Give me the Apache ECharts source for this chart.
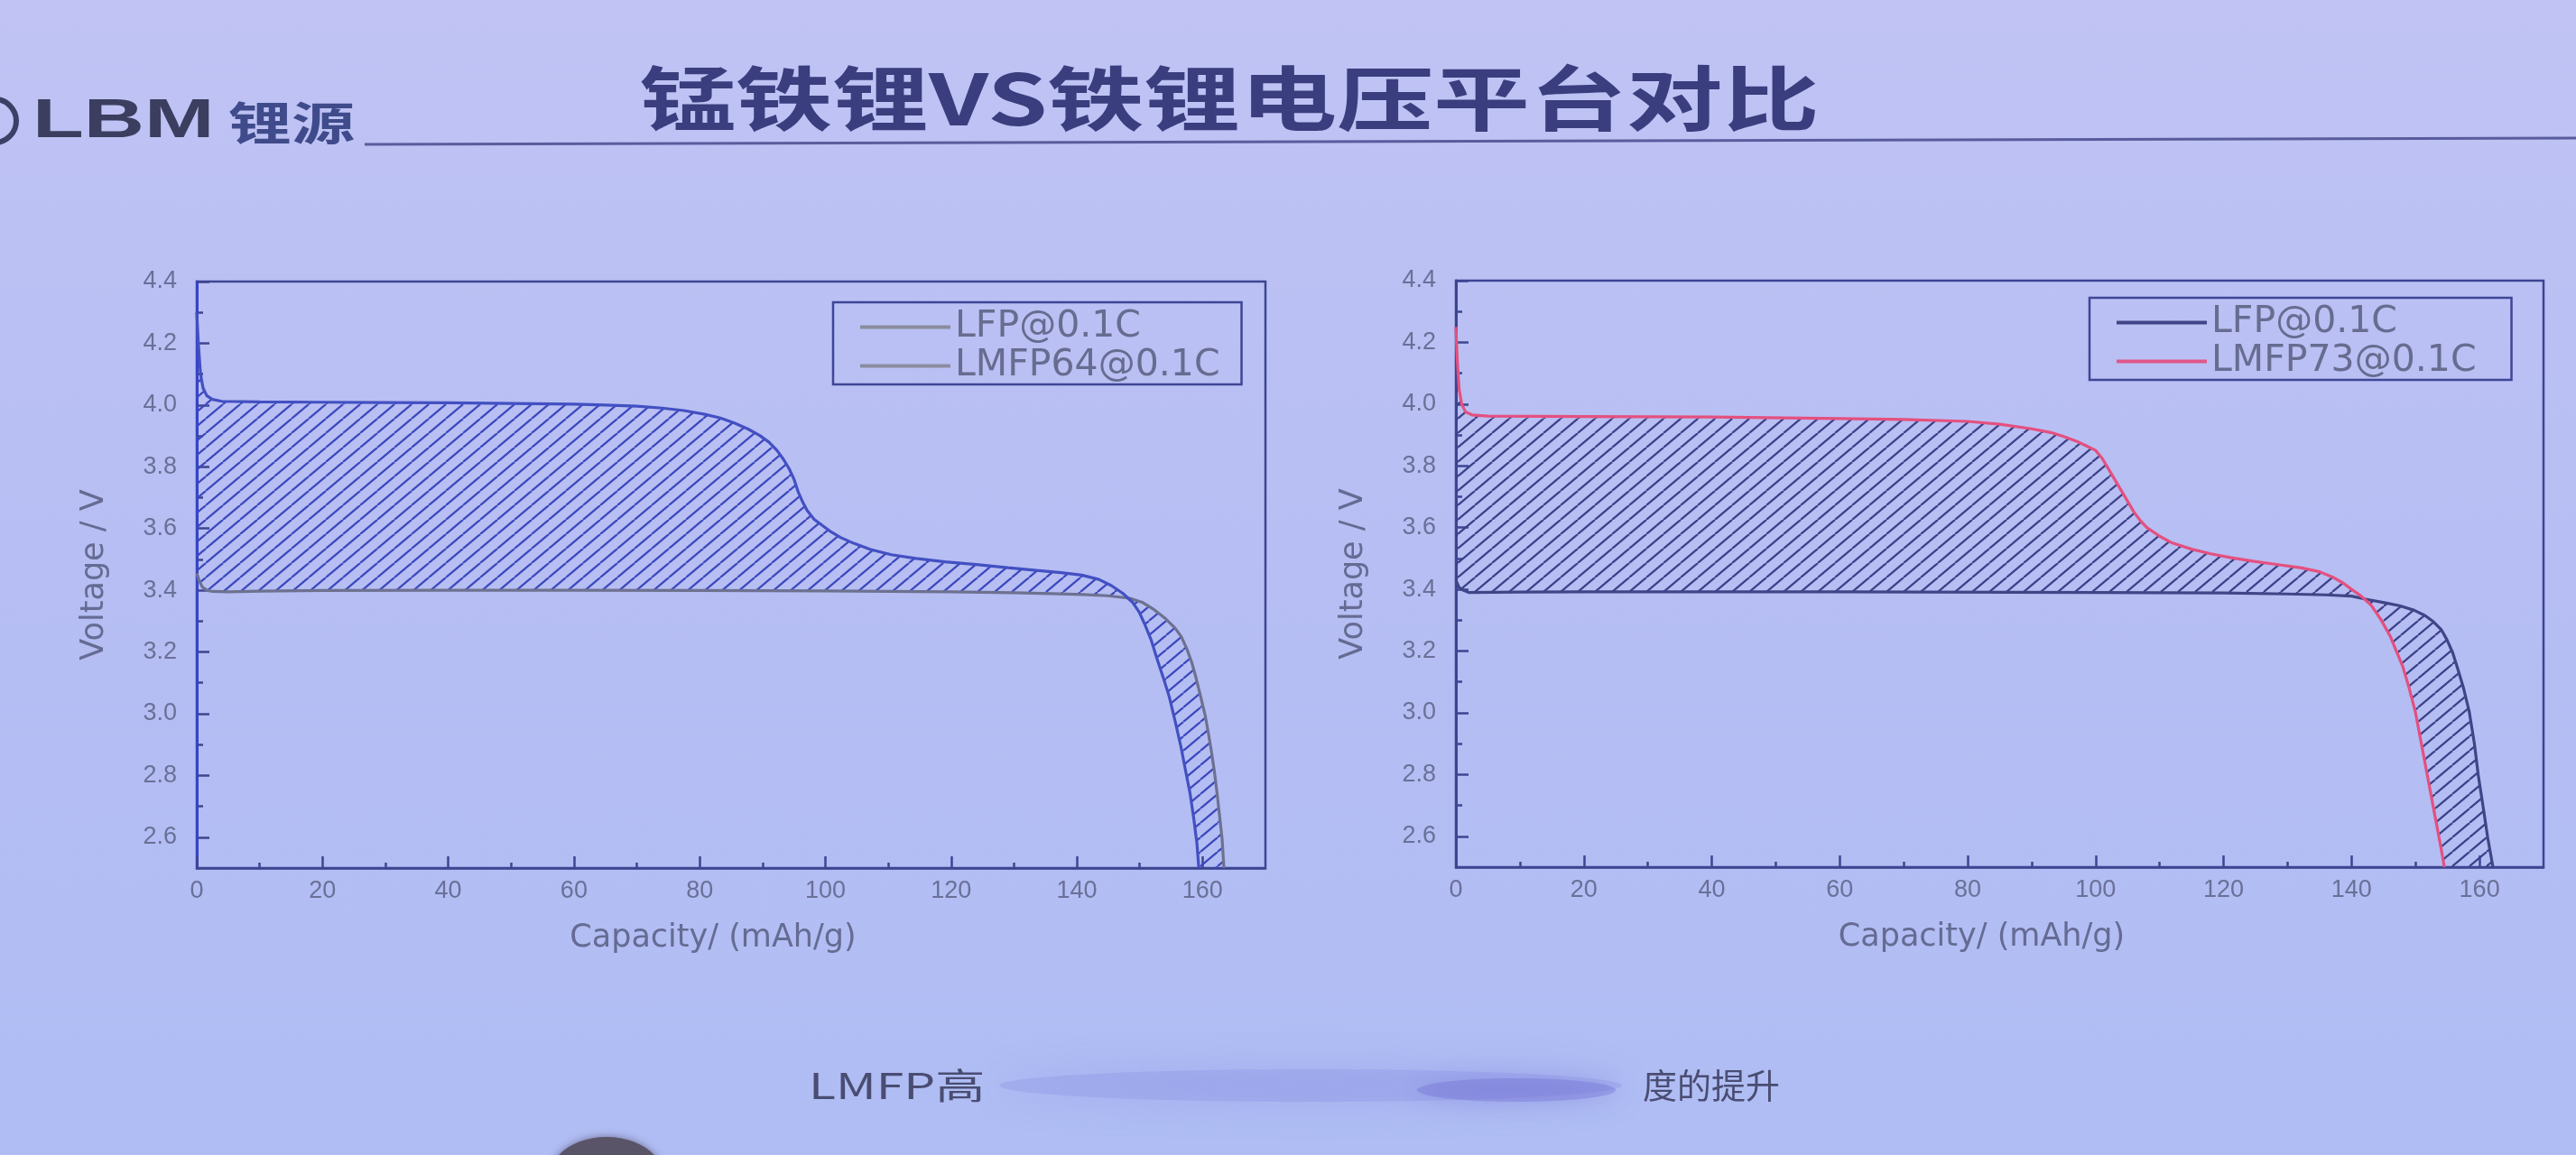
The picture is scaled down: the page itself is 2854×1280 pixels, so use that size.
<!DOCTYPE html>
<html>
<head>
<meta charset="utf-8">
<script src="https://cdn.jsdelivr.net/npm/echarts@6/dist/echarts.min.js"></script>
<style>
html,body{margin:0;padding:0;background:#b6bef3;}
#main{width:2854px;height:1280px;}
</style>
</head>
<body>
<div id="main"></div>
<script>
// ---------- data ----------
const titleText = '锰铁锂VS铁锂电压平台对比';
const xName = 'Capacity/ (mAh/g)';
const yName = 'Voltage / V';
const xMajorTicks = [0, 20, 40, 60, 80, 100, 120, 140, 160];
const xMinorTicks = [10, 30, 50, 70, 90, 110, 130, 150];
const yMajorTicks = [2.6, 2.8, 3.0, 3.2, 3.4, 3.6, 3.8, 4.0, 4.2, 4.4];
const yMinorTicks = [2.7, 2.9, 3.1, 3.3, 3.5, 3.7, 3.9, 4.1, 4.3];

const lfpLeft = [[0,3.455],[0.4,3.43],[0.9,3.41],[1.6,3.4],[2.5,3.396],[5,3.395],[10,3.397],[20,3.399],[40,3.4],[60,3.4],[80,3.399],[100,3.398],[120,3.395],[130,3.392],[136,3.389],[141,3.386],[145,3.382],[148.4,3.374],[150.5,3.36],[152.3,3.337],[154,3.31],[155.6,3.278],[156.6,3.25],[157.5,3.21],[158.3,3.165],[159,3.113],[159.7,3.055],[160.4,2.996],[160.9,2.94],[161.4,2.879],[161.9,2.81],[162.3,2.743],[162.7,2.67],[163.1,2.596],[163.4,2.5]];
const lmfp64 = [[0,4.30],[0.25,4.2],[0.6,4.1],[1.0,4.055],[1.6,4.03],[2.5,4.018],[4,4.012],[10,4.01],[20,4.009],[30,4.008],[40,4.007],[50,4.005],[60,4.003],[65,4.0],[70,3.996],[74,3.99],[77.5,3.982],[80.8,3.97],[83.3,3.958],[85.6,3.941],[87.7,3.922],[89.5,3.902],[91,3.88],[92.3,3.853],[93.3,3.825],[94.2,3.795],[95,3.76],[95.7,3.717],[96.4,3.685],[97.1,3.658],[98.2,3.63],[99.5,3.61],[100.9,3.589],[102.4,3.571],[104.5,3.552],[107.2,3.532],[110.5,3.515],[114.4,3.503],[119,3.492],[124,3.483],[129,3.473],[133.6,3.464],[137.5,3.457],[140.8,3.449],[143.5,3.435],[145.5,3.415],[147.3,3.39],[148.9,3.36],[149.9,3.33],[150.8,3.29],[151.8,3.24],[152.7,3.181],[153.7,3.12],[154.7,3.055],[155.7,2.97],[156.6,2.889],[157.3,2.815],[158,2.743],[158.6,2.66],[159.1,2.58],[159.4,2.5]];

const lfpRight = [[0,3.43],[0.4,3.41],[0.8,3.4],[2,3.39],[10,3.391],[20,3.392],[60,3.392],[100,3.39],[120,3.388],[130,3.385],[136,3.382],[140,3.378],[142,3.369],[145.1,3.357],[147.5,3.347],[149.8,3.332],[151.5,3.315],[152.8,3.295],[154,3.27],[154.9,3.237],[155.8,3.195],[156.5,3.149],[157.5,3.08],[158.4,3.003],[159.2,2.9],[159.8,2.798],[160.6,2.69],[161.3,2.593],[162.1,2.5]];
const lmfp73 = [[0,4.25],[0.2,4.15],[0.5,4.05],[0.9,4.0],[1.5,3.975],[2.5,3.965],[5,3.961],[20,3.96],[40,3.958],[60,3.953],[70,3.95],[80,3.944],[85,3.935],[90,3.92],[93,3.908],[95,3.895],[97,3.88],[98.5,3.865],[100,3.85],[101,3.825],[102,3.79],[103,3.755],[104,3.72],[105,3.685],[106,3.65],[107,3.622],[108,3.6],[110,3.572],[112,3.55],[115,3.53],[118,3.515],[121,3.503],[125,3.49],[128.5,3.48],[132,3.47],[135,3.457],[137,3.44],[138.7,3.42],[140,3.4],[141.5,3.378],[143,3.35],[144.5,3.305],[146,3.25],[147,3.2],[148,3.15],[149,3.08],[150,3.0],[151,2.89],[152,2.78],[153,2.67],[154,2.56],[154.5,2.5]];

const legendLeft = ['LFP@0.1C', 'LMFP64@0.1C'];
const legendRight = ['LFP@0.1C', 'LMFP73@0.1C'];

// ---------- styles ----------
const labelColor = '#6a7097';
const nameColor = '#656b92';
const frameColor = '#3e4592';

function makeHatch(color, w, h, lw) {
  const c = document.createElement('canvas');
  c.width = w; c.height = h;
  const g = c.getContext('2d');
  g.strokeStyle = color; g.lineWidth = lw;
  for (const dx of [-w, 0, w]) {
    g.beginPath(); g.moveTo(dx, h); g.lineTo(dx + w, 0); g.stroke();
  }
  return c;
}
const hatchLeft = { image: makeHatch('#3c47bd', 19, 16, 2.2), repeat: 'repeat' };
const hatchRight = { image: makeHatch('#3b4088', 19, 16, 2.2), repeat: 'repeat' };

function xAxes(grid, lineColor) {
  return [{
    gridIndex: grid, type: 'value', min: 0, max: 170, position: 'bottom',
    axisLine: { lineStyle: { color: lineColor, width: 2.5 } },
    axisTick: { inside: true, length: 13, customValues: xMajorTicks, lineStyle: { color: frameColor, width: 2.5 } },
    axisLabel: { customValues: xMajorTicks, margin: 12, fontSize: 27, color: labelColor, fontFamily: 'Liberation Sans' },
    splitLine: { show: false },
    name: xName, nameLocation: 'middle', nameGap: 60,
    nameTextStyle: { fontSize: 35, color: nameColor, fontFamily: 'DejaVu Sans', padding: [0, 40, 0, 0] }
  }, {
    gridIndex: grid, type: 'value', min: 0, max: 170, position: 'bottom',
    axisLine: { show: false },
    axisTick: { inside: true, length: 6, customValues: xMinorTicks, lineStyle: { color: frameColor, width: 2.5 } },
    axisLabel: { show: false }, splitLine: { show: false }
  }];
}
function yAxes(grid, lineColor) {
  return [{
    gridIndex: grid, type: 'value', min: 2.5, max: 4.4, position: 'left',
    axisLine: { lineStyle: { color: lineColor, width: 3 } },
    axisTick: { inside: true, length: 14, customValues: yMajorTicks, lineStyle: { color: frameColor, width: 2.5 } },
    axisLabel: { customValues: yMajorTicks, margin: 22, fontSize: 27, color: labelColor, fontFamily: 'Liberation Sans',
      formatter: v => v.toFixed(1) },
    splitLine: { show: false },
    name: yName, nameLocation: 'middle', nameGap: 96, nameRotate: 90,
    nameTextStyle: { fontSize: 35, color: nameColor, fontFamily: 'DejaVu Sans' }
  }, {
    gridIndex: grid, type: 'value', min: 2.5, max: 4.4, position: 'left',
    axisLine: { show: false },
    axisTick: { inside: true, length: 7, customValues: yMinorTicks, lineStyle: { color: frameColor, width: 2.5 } },
    axisLabel: { show: false }, splitLine: { show: false }
  }];
}

function hatchSeries(xi, yi, upper, lower, pattern) {
  return {
    type: 'custom', xAxisIndex: xi, yAxisIndex: yi, silent: true, z: 1,
    data: [[0, 3]],
    renderItem: function (params, api) {
      const pts = upper.map(p => api.coord(p)).concat(lower.slice().reverse().map(p => api.coord(p)));
      return { type: 'polygon', shape: { points: pts }, style: { fill: pattern, stroke: null } };
    }
  };
}
function lineSeries(name, xi, yi, data, color, z) {
  return {
    type: 'line', name: name, xAxisIndex: xi, yAxisIndex: yi, data: data,
    symbol: 'none', smooth: false, z: z,
    lineStyle: { color: color, width: 3.2 }, itemStyle: { color: color }
  };
}
function legend(left, top, names, colors, padRight) {
  return {
    left: left, top: top, orient: 'vertical',
    data: names.map((n, i) => ({ name: n, icon: 'rect', itemStyle: { color: colors[i] } })),
    itemWidth: 100, itemHeight: 4, itemGap: 2,
    padding: [7, padRight, 0, 30],
    borderColor: '#3f4696', borderWidth: 2.5,
    textStyle: { fontSize: 41, lineHeight: 38, color: '#676c90', fontFamily: 'DejaVu Sans' },
    selectedMode: false
  };
}

const chart = echarts.init(document.getElementById('main'), null, { renderer: 'canvas' });
chart.setOption({
  animation: false,
  backgroundColor: { type: 'linear', x: 0, y: 0, x2: 0, y2: 1,
    colorStops: [{ offset: 0, color: '#c0c3f4' }, { offset: 0.5, color: '#b6bef3' }, { offset: 1, color: '#afbdf4' }] },
  grid: [
    { left: 218, top: 312, width: 1184, height: 650, show: true, borderColor: frameColor, borderWidth: 2.5, backgroundColor: 'transparent' },
    { left: 1613, top: 311, width: 1205, height: 650, show: true, borderColor: frameColor, borderWidth: 2.5, backgroundColor: 'transparent' }
  ],
  xAxis: xAxes(0, '#3d4590').concat(xAxes(1, '#3d4590')),
  yAxis: yAxes(0, '#3644c8').concat(yAxes(1, '#3d4590')),
  legend: [
    legend(923, 335, legendLeft, ['#8a8d9e', '#8a8d9e'], 24),
    legend(2315, 330, legendRight, ['#3f4586', '#e0588a'], 39)
  ],
  series: [
    hatchSeries(0, 0, lmfp64, lfpLeft, hatchLeft),
    lineSeries(legendLeft[0], 0, 0, lfpLeft, '#6d7190', 3),
    lineSeries(legendLeft[1], 0, 0, lmfp64, '#4350c2', 4),
    hatchSeries(2, 2, lmfp73, lfpRight, hatchRight),
    lineSeries(legendRight[0], 2, 2, lfpRight, '#3f4586', 3),
    lineSeries(legendRight[1], 2, 2, lmfp73, '#e4507f', 4)
  ],
  graphic: [
    // rule under the title
    { type: 'line', shape: { x1: 404, y1: 160, x2: 2854, y2: 153 }, style: { stroke: '#595c9c', lineWidth: 3 }, silent: true },
    // logo
    { type: 'arc', shape: { cx: -6, cy: 134, r: 24, startAngle: -Math.PI / 2, endAngle: Math.PI / 2 },
      style: { stroke: '#3c3f66', lineWidth: 6, fill: null }, silent: true },
    { type: 'text', x: 36, y: 135, scaleX: 1.5, silent: true,
      style: { text: 'LBM', font: 'bold 62px "Liberation Sans"', fill: '#3b3e5e', textAlign: 'left', textVerticalAlign: 'middle' } },
    { type: 'text', x: 253, y: 136, scaleX: 1.4, silent: true,
      style: { text: '锂源', font: 'bold 50px "Noto Sans CJK SC"', fill: '#3f4b8a', textAlign: 'left', textVerticalAlign: 'middle' } },
    // title
    { type: 'text', x: 1362, y: 109, scaleX: 1.37, silent: true,
      style: { text: titleText, font: 'bold 78px "Noto Sans CJK SC"', fill: '#3a3e7e', textAlign: 'center', textVerticalAlign: 'middle' } },
    // bottom caption (middle part blurred in the photo)
    { type: 'ellipse', shape: { cx: 1452, cy: 1203, rx: 345, ry: 18 }, silent: true,
      style: { fill: 'rgba(140,148,228,0.35)', shadowBlur: 40, shadowColor: 'rgba(125,132,222,0.8)' } },
    { type: 'ellipse', shape: { cx: 1680, cy: 1208, rx: 110, ry: 13 }, silent: true,
      style: { fill: 'rgba(110,105,210,0.35)', shadowBlur: 25, shadowColor: 'rgba(105,100,205,0.7)' } },
    { type: 'text', x: 896, y: 1203, scaleX: 1.38, silent: true,
      style: { text: 'LMFP高', font: '40px "Noto Sans CJK SC"', fill: '#4a4d72', textAlign: 'left', textVerticalAlign: 'middle' } },
    { type: 'text', x: 1820, y: 1203, silent: true,
      style: { text: '度的提升', font: '38px "Noto Sans CJK SC"', fill: '#4a4d72', textAlign: 'left', textVerticalAlign: 'middle' } },
    // dark head at bottom edge of the photo
    { type: 'ellipse', shape: { cx: 672, cy: 1302, rx: 62, ry: 42 }, silent: true,
      style: { fill: '#5a5468', shadowBlur: 8, shadowColor: 'rgba(70,60,80,0.6)' } }
  ]
});
</script>
</body>
</html>
